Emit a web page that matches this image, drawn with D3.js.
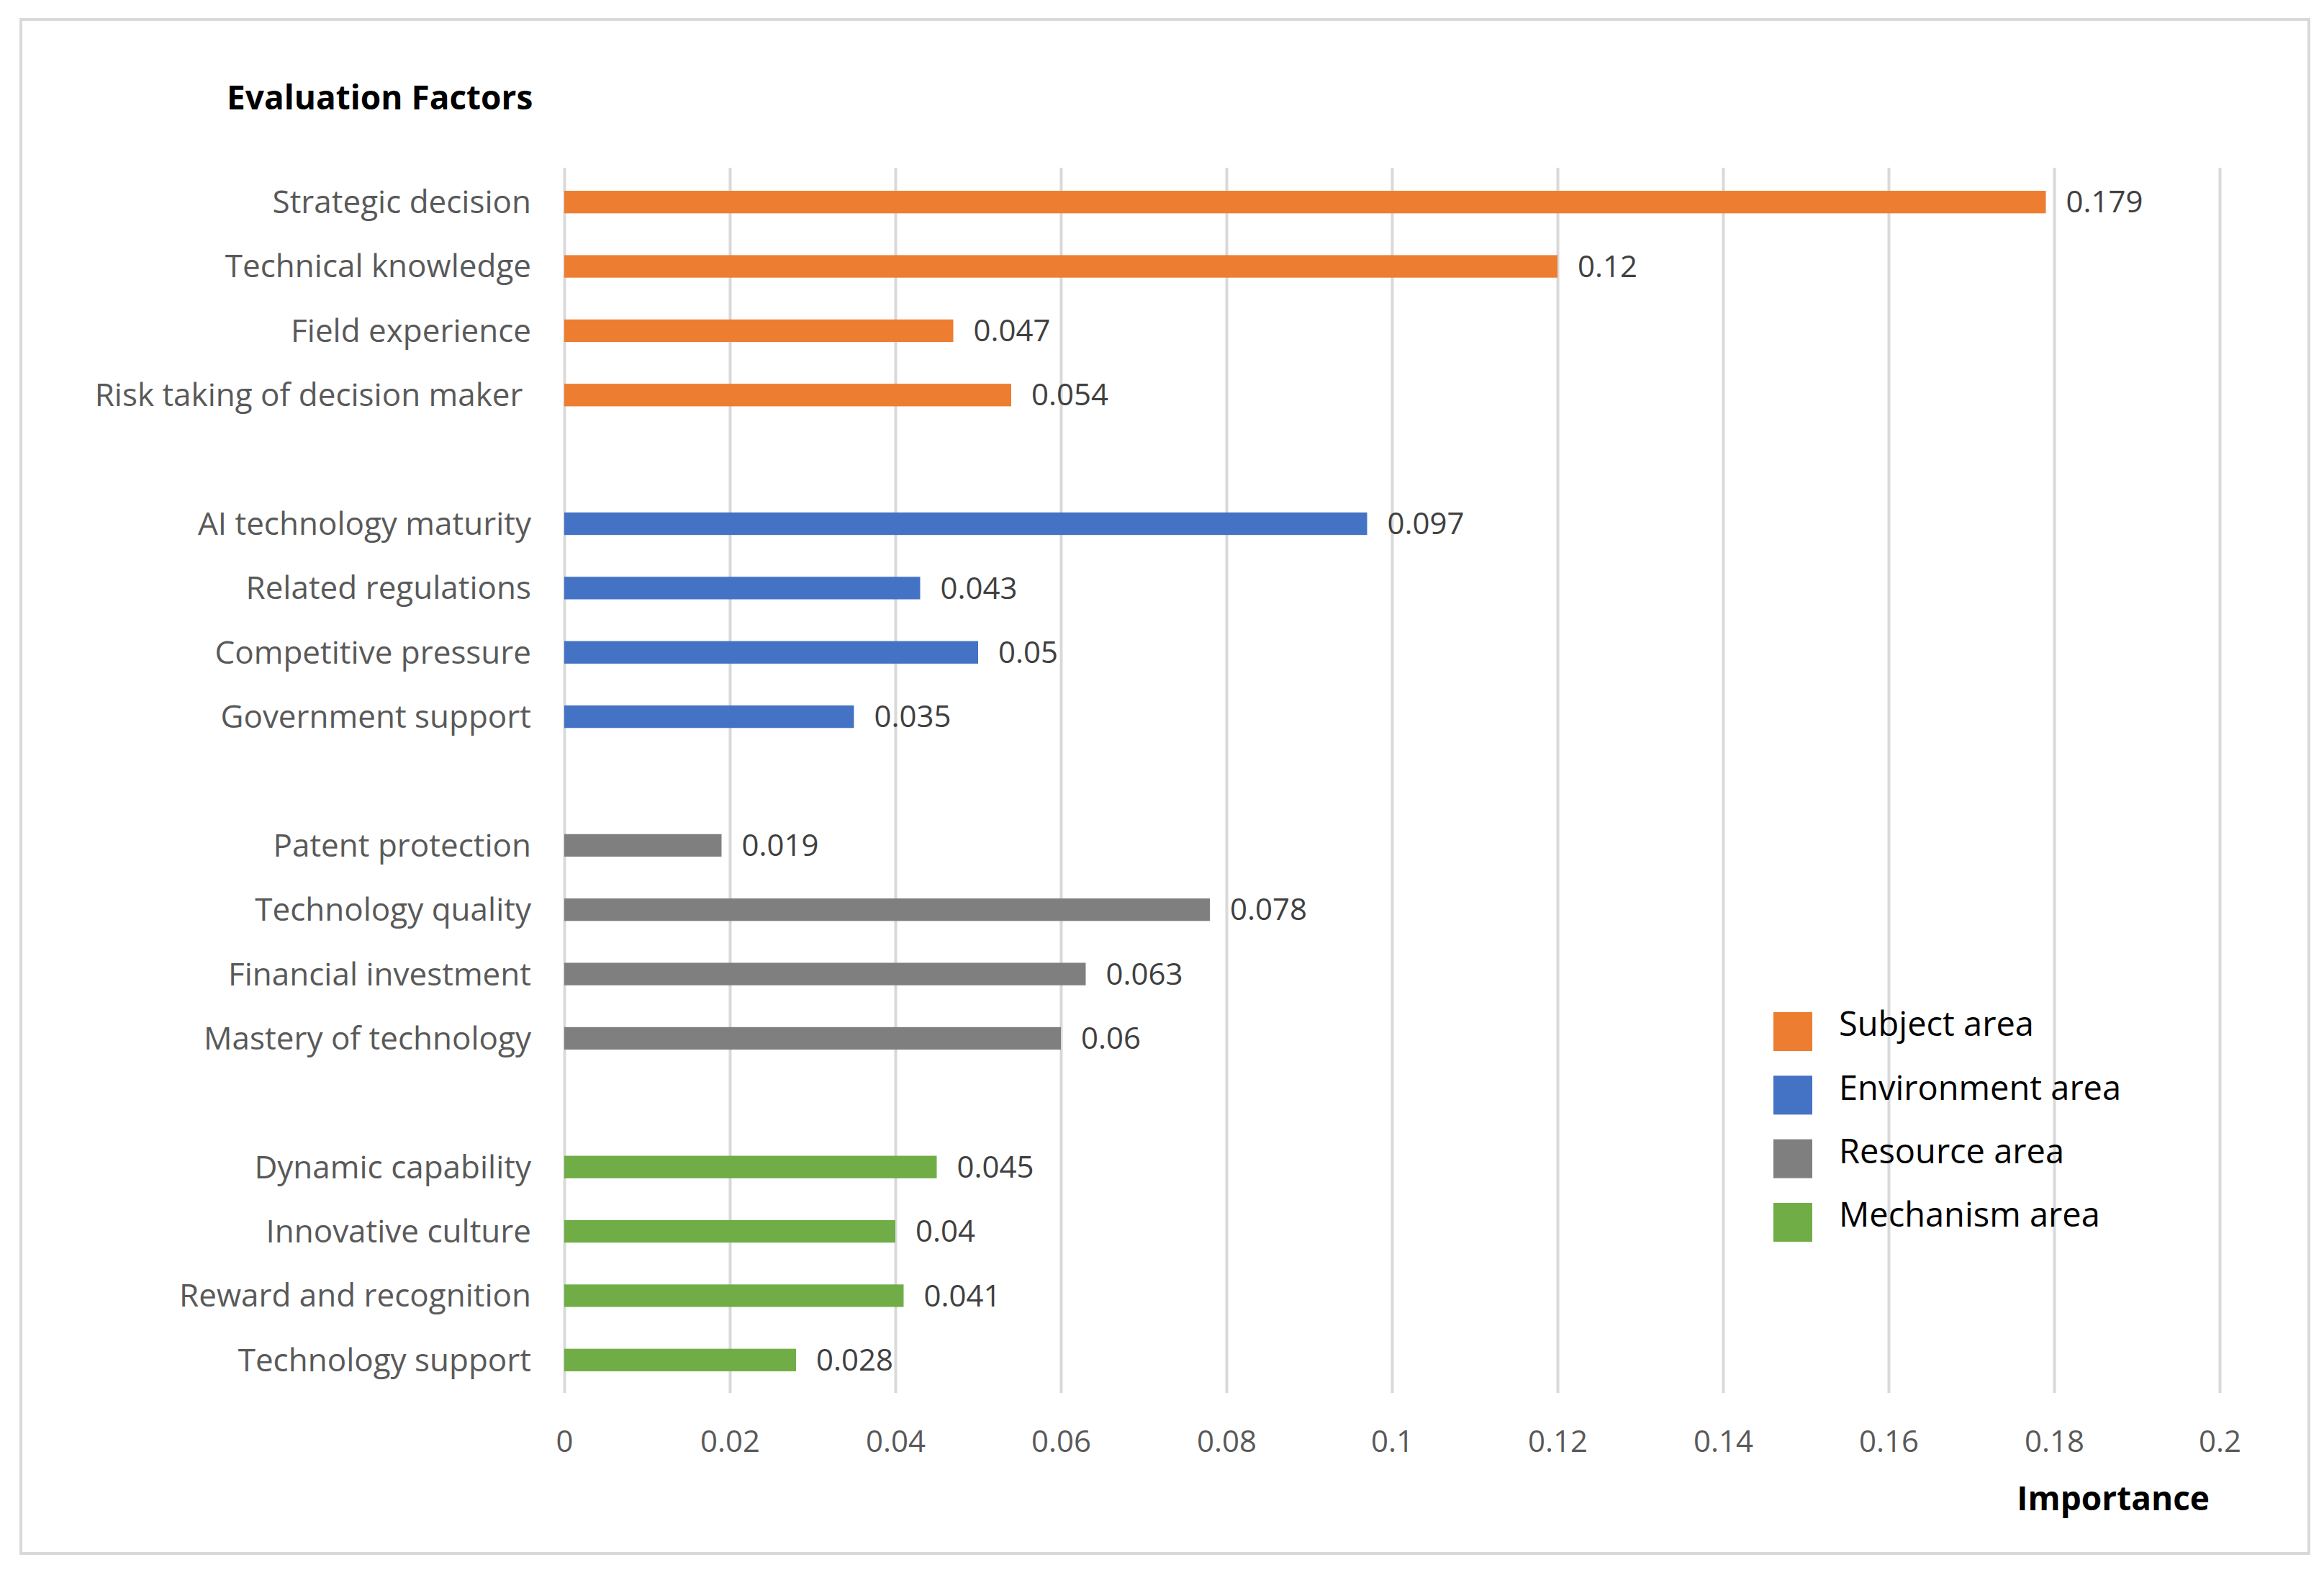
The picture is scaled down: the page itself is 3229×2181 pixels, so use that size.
<!DOCTYPE html>
<html>
<head>
<meta charset="utf-8">
<script src="https://cdn.jsdelivr.net/npm/d3@7/dist/d3.min.js"></script>
<style>
  html, body { margin: 0; padding: 0; background: #fff; }
  svg { display: block; }
  text { font-family: "Open Sans", "Noto Sans", sans-serif; }
</style>
</head>
<body>
<svg id="chart" width="3229" height="2181"></svg>
<script>
// ---- Data ----
const categories = [
  "Strategic decision", "Technical knowledge", "Field experience", "Risk taking of decision maker ",
  "",
  "AI technology maturity", "Related regulations", "Competitive pressure", "Government support",
  "",
  "Patent protection", "Technology quality", "Financial investment", "Mastery of technology",
  "",
  "Dynamic capability", "Innovative culture", "Reward and recognition", "Technology support"
];
const values = [
  0.179, 0.12, 0.047, 0.054,
  null,
  0.097, 0.043, 0.05, 0.035,
  null,
  0.019, 0.078, 0.063, 0.06,
  null,
  0.045, 0.04, 0.041, 0.028
];
const rowArea = [0,0,0,0,-1,1,1,1,1,-1,2,2,2,2,-1,3,3,3,3];
const areaNames = ["Subject area", "Environment area", "Resource area", "Mechanism area"];
const areaColors = ["#ED7D31", "#4472C4", "#7F7F7F", "#70AD47"];
const xTicks = [0, 0.02, 0.04, 0.06, 0.08, 0.1, 0.12, 0.14, 0.16, 0.18, 0.2];
const xTitle = "Importance";
const yTitle = "Evaluation Factors";

// ---- Layout ----
const svg = d3.select("#chart");
const W = 3229, H = 2181;
const gridTop = 233, gridBottom = 1935;

svg.append("rect").attr("x", 0).attr("y", 0).attr("width", W).attr("height", H).attr("fill", "#fff");
svg.append("rect").attr("x", 29).attr("y", 27).attr("width", 3179).attr("height", 2131)
  .attr("fill", "none").attr("stroke", "#D9D9D9").attr("stroke-width", 4);

const x = d3.scaleLinear().domain([0, 0.2]).range([784, 3084]);
const y = d3.scaleBand().domain(d3.range(categories.length))
  .range([236, 1934]).paddingInner(0.65).paddingOuter(0.325);

// Gridlines + tick labels
const xAxis = d3.axisBottom(x).tickValues(xTicks)
  .tickSize(-(gridBottom - gridTop)).tickSizeOuter(0)
  .tickFormat(d => String(+d.toFixed(2)));
const gx = svg.append("g").attr("transform", `translate(0,${gridBottom})`).call(xAxis);
gx.select(".domain").remove();
gx.selectAll(".tick line").attr("stroke", "#D9D9D9").attr("stroke-width", 4);
gx.selectAll(".tick text").attr("y", 67).attr("dy", "0.35em")
  .attr("fill", "#595959").attr("font-size", 42)
  .style("font-family", "'Open Sans', sans-serif");

// Bars
const rows = categories.map((c, i) => ({ i, c, v: values[i], a: rowArea[i] }));
const barRows = rows.filter(r => r.v !== null);

svg.append("g").selectAll("rect").data(barRows).join("rect")
  .attr("x", x(0))
  .attr("y", d => y(d.i))
  .attr("width", d => x(d.v) - x(0))
  .attr("height", y.bandwidth())
  .attr("fill", d => areaColors[d.a]);

// Value labels
svg.append("g").selectAll("text").data(barRows).join("text")
  .attr("x", d => x(d.v) + 28)
  .attr("y", d => y(d.i) + y.bandwidth() / 2)
  .attr("dy", "0.35em")
  .attr("fill", "#404040").attr("font-size", 42)
  .text(d => String(d.v));

// Category labels
svg.append("g").selectAll("text").data(rows.filter(r => r.c !== "")).join("text")
  .attr("x", 738)
  .attr("y", d => y(d.i) + y.bandwidth() / 2)
  .attr("dy", "0.35em")
  .attr("text-anchor", "end")
  .style("white-space", "pre")
  .attr("fill", "#595959").attr("font-size", 44)
  .text(d => d.c);

// Titles
svg.append("text").attr("x", 315).attr("y", 136).attr("dy", "0.35em")
  .attr("font-size", 46).attr("font-weight", "bold").attr("fill", "#000")
  .text(yTitle);
svg.append("text").attr("x", 3070).attr("y", 2082).attr("dy", "0.35em")
  .attr("text-anchor", "end")
  .attr("font-size", 46).attr("font-weight", "bold").attr("fill", "#000")
  .text(xTitle);

// Legend
const legY = d3.scalePoint().domain(areaNames).range([1433, 1698]);
const leg = svg.append("g").selectAll("g").data(areaNames).join("g")
  .attr("transform", d => `translate(2464,${legY(d)})`);
leg.append("rect").attr("x", 0).attr("y", -27).attr("width", 54).attr("height", 54)
  .attr("fill", (d, i) => areaColors[i]);
leg.append("text").attr("x", 91).attr("y", -10).attr("dy", "0.35em")
  .attr("font-size", 47).attr("fill", "#000")
  .text(d => d);
</script>
</body>
</html>
